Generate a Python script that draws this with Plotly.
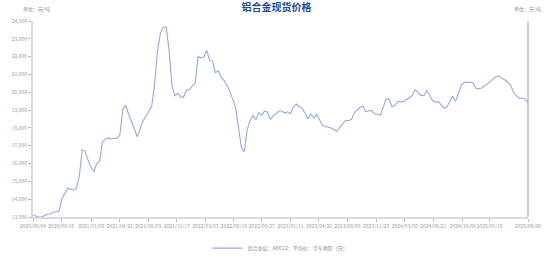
import pandas as pd
import plotly.graph_objects as go

start_date = "2020-06-04"
end_date = "2025-06-06"

prices = [
    13100, 13050, 13000, 13000, 13100, 13170, 13170, 13280, 13280, 13350,
    14030, 14320, 14620, 14550, 14520, 14600, 15300, 16760, 16700, 16200,
    15800, 15550, 16000, 16120, 17200, 17380, 17450, 17380, 17420, 17400,
    17600, 19000, 19280, 18780, 18400, 17950, 17500, 17900, 18400, 18650,
    18950, 19200, 20450, 22300, 23300, 23650, 23650, 22400, 20400, 19800,
    19950, 19730, 19730, 20100, 20150, 20360, 20480, 22000, 21930, 21950,
    22350, 21800, 21750, 21100, 21200, 20850, 20650, 20400, 20050, 19650,
    19150, 18000, 16900, 16660, 17900, 18420, 18700, 18470, 18860, 18720,
    18940, 18900, 18470, 18680, 18830, 18950, 18950, 18820, 18900, 18800,
    19200, 19340, 19200, 19080, 18820, 18500, 18780, 18560, 18750, 18400,
    18150, 18080, 18030, 18000, 17900, 17800, 18050, 18240, 18420, 18420,
    18470, 18850, 19020, 19160, 19220, 18900, 18960, 18980, 18780, 18780,
    18720, 19180, 19630, 19620, 19200, 19250, 19490, 19460, 19480, 19600,
    19680, 19820, 20150, 20000, 19820, 19810, 20100, 19850, 19540, 19450,
    19480, 19290, 19100, 19180, 19500, 19780, 19500, 20000, 20400, 20560,
    20560, 20560, 20550, 20220, 20200, 20240, 20360, 20440, 20600, 20770,
    20880, 20910, 20770, 20700, 20570, 20400, 19970, 19780, 19650, 19680,
    19630, 19380,
]

tick_dates = [
    "2020-06-04", "2020-09-16", "2021-01-05", "2021-04-21", "2021-08-03",
    "2021-11-17", "2022-03-03", "2022-06-16", "2022-09-27", "2023-01-11",
    "2023-04-26", "2023-08-09", "2023-11-23", "2024-03-08", "2024-06-21",
    "2024-10-08", "2025-01-16", "2025-06-06",
]
tick_labels = [d.replace("-", "/") for d in tick_dates]

y_ticks = [13000, 14000, 15000, 16000, 17000, 18000, 19000, 20000, 21000,
           22000, 23000, 24000]
y_labels = [f"{v:,}" for v in y_ticks]

title_text = "铝合金现货价格"
unit_text = "单位：元/吨"
series_name = "铝合金锭：ADC12：平均价：华东地区（日）"

dates = pd.date_range(start_date, end_date, periods=len(prices))

font_family = "Noto Sans CJK SC, Noto Sans, sans-serif"

fig = go.Figure()
fig.add_trace(go.Scatter(
    x=dates, y=prices, mode="lines", name=series_name,
    line=dict(color="#93AADA", width=1.1),
))

fig.update_layout(
    width=553, height=275,
    margin=dict(l=25, r=15, t=21, b=21),
    paper_bgcolor="white", plot_bgcolor="white",
    font=dict(family=font_family, size=5, color="#999999"),
    title=dict(text=f"<b>{title_text}</b>", x=0.5, xanchor="center",
               y=0.985, yanchor="top",
               font=dict(size=10, color="#24478F", family=font_family)),
    showlegend=True,
    legend=dict(orientation="h", x=0.5, xanchor="center", y=-0.085,
                yanchor="top", font=dict(size=5, color="#888888"),
                itemwidth=30, bgcolor="rgba(0,0,0,0)"),
    xaxis=dict(
        type="date", range=[start_date, end_date],
        tickvals=tick_dates, ticktext=tick_labels, tickangle=0,
        showgrid=False, zeroline=False,
        showline=True, linecolor="#DADADA", linewidth=2,
        ticks="outside", ticklen=3, tickcolor="#BBBBBB",
        tickfont=dict(size=5, color="#999999"),
    ),
    yaxis=dict(
        range=[13000, 24000], tickvals=y_ticks, ticktext=y_labels,
        showgrid=False, zeroline=False,
        showline=True, linecolor="#DADADA", linewidth=2,
        ticks="outside", ticklen=3, tickcolor="#BBBBBB",
        tickfont=dict(size=5, color="#999999"),
    ),
    shapes=[dict(type="line", xref="paper", yref="paper", x0=1, x1=1,
                 y0=0, y1=1, line=dict(color="#BDBDBD", width=1.5))],
    annotations=[
        dict(text=unit_text, xref="paper", yref="paper", x=-0.025, y=1.03,
             xanchor="left", yanchor="bottom", showarrow=False,
             font=dict(size=5, color="#888888")),
        dict(text=unit_text, xref="paper", yref="paper", x=1.03, y=1.03,
             xanchor="right", yanchor="bottom", showarrow=False,
             font=dict(size=5, color="#888888")),
    ],
)

fig.write_html("out.html")
